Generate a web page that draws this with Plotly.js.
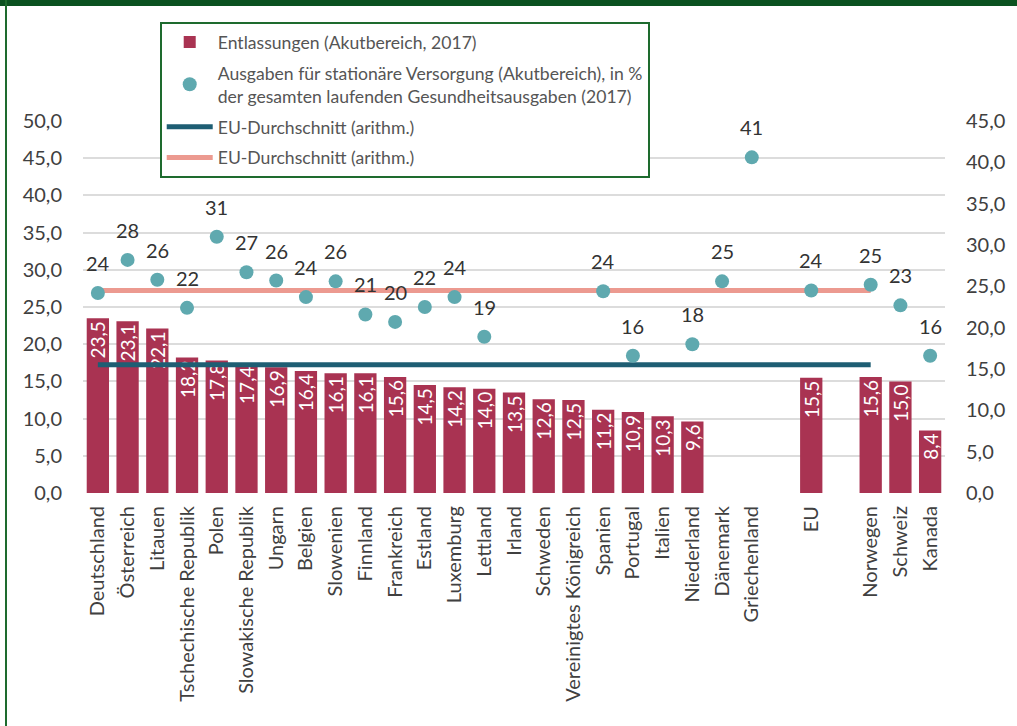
<!DOCTYPE html>
<html>
<head>
<meta charset="utf-8">
<script src="https://cdn.plot.ly/plotly-3.0.1.min.js"></script>
<style>
  html, body { margin: 0; padding: 0; background: #ffffff; }
  #wrap { position: relative; width: 1017px; height: 726px; overflow: hidden; }
  #chart { position: absolute; left: 0; top: 0; width: 1017px; height: 726px; }
  .frameTop { position: absolute; left: 0; top: 0; width: 1017px; height: 6px; background: #0B5220; pointer-events: none; }
  .frameLeft { position: absolute; left: 5px; top: 0; width: 2px; height: 726px; background: #1E6B2E; pointer-events: none; }
</style>
</head>
<body>
<div id="wrap">
  <div id="chart"></div>
  <div class="frameTop"></div>
  <div class="frameLeft"></div>
</div>
<script>
// ---- Data ----
const categories = ["Deutschland", "Österreich", "Litauen", "Tschechische Republik", "Polen",
  "Slowakische Republik", "Ungarn", "Belgien", "Slowenien", "Finnland", "Frankreich", "Estland",
  "Luxemburg", "Lettland", "Irland", "Schweden", "Vereinigtes Königreich", "Spanien", "Portugal",
  "Italien", "Niederland", "Dänemark", "Griechenland", " ", "EU", "  ", "Norwegen", "Schweiz", "Kanada"];

// Entlassungen (Akutbereich, 2017) – left axis
const discharges = [23.5, 23.1, 22.1, 18.2, 17.8, 17.4, 16.9, 16.4, 16.1, 16.1, 15.6, 14.5,
  14.2, 14.0, 13.5, 12.6, 12.5, 11.2, 10.9, 10.3, 9.6, null, null, null, 15.5, null, 15.6, 15.0, 8.4];

// Ausgaben für stationäre Versorgung (% der laufenden Gesundheitsausgaben) – right axis
const spending = [24.2, 28.2, 25.8, 22.4, 31.0, 26.7, 25.7, 23.7, 25.6, 21.6, 20.7, 22.5,
  23.7, 18.9, null, null, null, 24.4, 16.6, null, 18.0, 25.6, 40.6, null, 24.5, null, 25.2, 22.7, 16.6];
const spendingLabels = ["24", "28", "26", "22", "31", "27", "26", "24", "26", "21", "20", "22",
  "24", "19", "", "", "", "24", "16", "", "18", "25", "41", "", "24", "", "25", "23", "16"];

// EU averages (drawn on the right axis, from Deutschland to Norwegen)
const euAvgLineCats = categories.slice(0, categories.indexOf("Norwegen") + 1);
const euAvgDischarges = 15.5;
const euAvgSpending = 24.5;

const leftTicks = [0, 5, 10, 15, 20, 25, 30, 35, 40, 45, 50];
const rightTicks = [0, 5, 10, 15, 20, 25, 30, 35, 40, 45];

// ---- Style ----
const FONT = "Lato, 'Open Sans', sans-serif";
const barColor = "#A93352";
const dotColor = "#5FA9AF";
const blueLine = "#1E5E73";
const pinkLine = "#EC9A90";
const textGray = "#404040";

const traces = [
  {
    type: "bar", name: "Entlassungen (Akutbereich, 2017)",
    x: categories, y: discharges, yaxis: "y",
    marker: { color: barColor },
    texttemplate: "%{y:.1f}", textposition: "inside", insidetextanchor: "end",
    textangle: -90, constraintext: "none",
    textfont: { family: FONT, size: 19, color: "#ffffff" },
    legendrank: 1, legendgroup: "g1"
  },
  {
    type: "scatter", mode: "markers",
    name: "Ausgaben für stationäre Versorgung (Akutbereich), in %<br>der gesamten laufenden Gesundheitsausgaben (2017)",
    x: categories, y: spending, yaxis: "y2",
    marker: { color: dotColor, size: 14 },
    legendrank: 2, legendgroup: "g2"
  },
  {
    type: "scatter", mode: "lines", name: "EU-Durchschnitt (arithm.)",
    x: euAvgLineCats, y: euAvgLineCats.map(() => euAvgDischarges), yaxis: "y2",
    line: { color: blueLine, width: 5 },
    legendrank: 3, legendgroup: "g3"
  },
  {
    type: "scatter", mode: "lines", name: "EU-Durchschnitt (arithm.) ",
    x: euAvgLineCats, y: euAvgLineCats.map(() => euAvgSpending), yaxis: "y2",
    line: { color: pinkLine, width: 5 },
    legendrank: 4, legendgroup: "g4"
  }
];
// lines drawn under the dots; legend order set by legendrank
const drawOrder = [traces[0], traces[3], traces[2], traces[1]];

const annotations = [];
categories.forEach((c, i) => {
  if (spending[i] !== null && spendingLabels[i] !== "") {
    annotations.push({
      x: c, y: spending[i], xref: "x", yref: "y2",
      text: spendingLabels[i], showarrow: false, yshift: 30,
      font: { family: FONT, size: 20, color: "#333333" }
    });
  }
});

const layout = {
  width: 1017, height: 726,
  margin: { l: 83, r: 72, t: 121, b: 233 },
  paper_bgcolor: "#ffffff", plot_bgcolor: "#ffffff",
  separators: ",.",
  font: { family: FONT, color: textGray },
  bargap: 0.25,
  showlegend: true,
  legend: {
    x: 0.089, y: 1.266, xanchor: "left", yanchor: "top",
    bgcolor: "#ffffff", bordercolor: "#1E6B2E", borderwidth: 2,
    font: { family: FONT, size: 17.6, color: "#555555" },
    itemwidth: 46, traceorder: "grouped", tracegroupgap: 5
  },
  xaxis: {
    type: "category", categoryorder: "array", categoryarray: categories,
    range: [-0.5, categories.length - 0.5], autorange: false,
    tickangle: -90, showgrid: false, zeroline: false, showline: false, ticks: "",
    tickfont: { family: FONT, size: 20, color: textGray },
    ticklabelstandoff: 8
  },
  yaxis: {
    range: [0, 50], tickvals: leftTicks, tickformat: ".1f",
    showgrid: true, gridcolor: "#DCDCDC", gridwidth: 2, zeroline: false, showline: false,
    tickfont: { family: FONT, size: 20, color: textGray }, ticklabelstandoff: 20
  },
  yaxis2: {
    range: [0, 45], tickvals: rightTicks, tickformat: ".1f",
    overlaying: "y", side: "right", showgrid: false, zeroline: false, showline: false,
    tickfont: { family: FONT, size: 20, color: textGray }, ticklabelstandoff: 20
  },
  annotations: annotations
};

Plotly.newPlot("chart", drawOrder, layout, { displayModeBar: false, staticPlot: true });
</script>
</body>
</html>
